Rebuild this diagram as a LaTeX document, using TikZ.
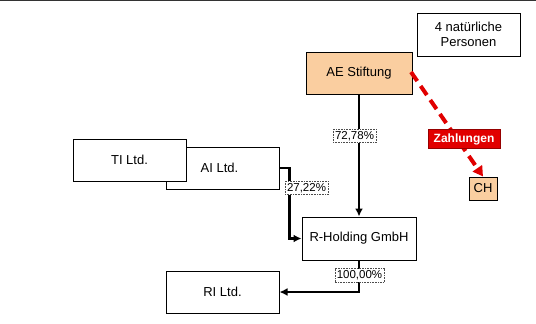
\documentclass[tikz,border=0pt]{standalone}
\usepackage{fontspec}
\setmainfont{Liberation Sans}
\usetikzlibrary{arrows.meta}
\definecolor{peach}{RGB}{250,206,160}
\definecolor{zred}{RGB}{225,0,0}
\definecolor{dred}{RGB}{150,0,0}
\begin{document}
\begin{tikzpicture}[x=1pt,y=-1pt,
  box/.style={draw=black,line width=1pt,fill=white,inner sep=0pt,align=center,font=\fontsize{13}{15}\selectfont},
  pct/.style={draw=black!70,densely dotted,line width=0.6pt,fill=white,inner sep=2pt,font=\fontsize{11.5}{13}\selectfont},
  conn/.style={line width=2.2pt,-{Latex[length=8pt,width=8pt]}}]
\useasboundingbox (0,0) rectangle (536,324);
\fill[white] (0,0) rectangle (536,324);
\draw[black!80,line width=1pt] (0,0.5) -- (536,0.5);
% nodes
\node[box,minimum width=103pt,minimum height=43pt] (pers) at (468.5,34.5) {4 natürliche\\Personen};
\node[box,fill=peach,minimum width=106pt,minimum height=42pt] (ae) at (359,73) {AE Stiftung};
\node[box,minimum width=113pt,minimum height=42pt] (ai) at (222.5,168) {\hspace*{-6pt}AI Ltd.};
\node[box,minimum width=113pt,minimum height=42pt] (ti) at (129.5,160) {TI Ltd.};
\node[box,minimum width=114pt,minimum height=43pt] (rh) at (359,238.5) {R-Holding GmbH};
\node[box,minimum width=113pt,minimum height=42pt] (ri) at (222.5,292) {RI Ltd.};
\node[box,fill=peach,minimum width=28pt,minimum height=23pt] (ch) at (483,188.5) {CH};
% connectors
\draw[conn] (ae.south) -- (rh.north);
\draw[conn] (ai.east) -- ++(10,0) |- (rh.west);
\draw[conn] (rh.south) |- (ri.east);
\coordinate (rs) at (411,72);
\draw[zred,line width=4pt,dash pattern=on 11pt off 6pt,-{Triangle[length=10pt,width=11pt]}] (rs) -- (ch.north);
% labels
\node[pct] (l1) at (354.5,136) {72,78\%};
\node[pct] (l2) at (306.5,188) {27,22\%};
\node[pct] (l3) at (359.5,275.5) {100,00\%};
\node[draw=dred,line width=0.8pt,fill=zred,text=white,inner sep=1pt,minimum width=72pt,minimum height=19pt,font=\bfseries\fontsize{12}{14}\selectfont] (zahl) at (464,139) {Zahlungen};
\end{tikzpicture}
\end{document}
